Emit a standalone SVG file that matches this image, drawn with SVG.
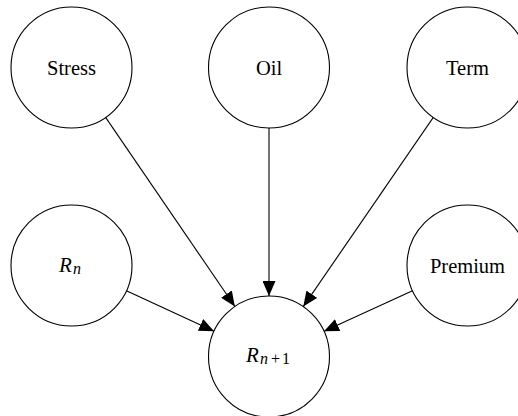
<svg xmlns="http://www.w3.org/2000/svg" width="518" height="416" viewBox="0 0 518 416">
  <style>
    .node circle { fill: #fff; stroke: #000; stroke-width: 1.1; }
    .label { font-family: 'Liberation Serif', 'Times New Roman', Times, serif; font-size: 20.5px; fill: #000; text-anchor: middle; }
    .math { font-style: italic; font-size: 21px; }
    .sub { font-size: 16px; }
    .edges line { stroke: #000; stroke-width: 1.1; fill: none; marker-end: url(#arrow); }
  </style>
  <defs>
    <marker id="arrow" markerUnits="userSpaceOnUse" markerWidth="15" markerHeight="13" refX="15" refY="6.5" orient="auto">
      <path d="M0,0 L15,6.5 L0,13 z" fill="#000"/>
    </marker>
  </defs>

  <!-- connectors: every factor points into the next value -->
  <g id="edges" class="edges">
    <line x1="105.6" y1="117.4" x2="234.9" y2="306.5"/>
    <line x1="269" y1="128" x2="269" y2="296"/>
    <line x1="433.3" y1="117.4" x2="303.3" y2="306.6"/>
    <line x1="126.4" y1="290.8" x2="214.1" y2="331.2"/>
    <line x1="412.5" y1="290.7" x2="324" y2="331.3"/>
  </g>

  <g id="stress" class="node">
    <circle cx="71.5" cy="67.5" r="60.5"/>
    <text class="label" x="71.5" y="74.5">Stress</text>
  </g>
  <g id="oil" class="node">
    <circle cx="269" cy="67.5" r="60.5"/>
    <text class="label" x="269" y="74.5">Oil</text>
  </g>
  <g id="term" class="node">
    <circle cx="467.5" cy="67.5" r="60.5"/>
    <text class="label" x="467.5" y="74.5">Term</text>
  </g>
  <g id="r-n" class="node">
    <circle cx="71.5" cy="265.5" r="60.5"/>
    <text class="label" x="70" y="271.7"><tspan class="math">R</tspan><tspan class="math sub" dx="1" dy="2">n</tspan></text>
  </g>
  <g id="premium" class="node">
    <circle cx="467.5" cy="265.5" r="60.5"/>
    <text class="label" x="467.5" y="272.5">Premium</text>
  </g>
  <g id="r-next" class="node">
    <circle cx="269" cy="356.5" r="60.5"/>
    <text class="label" x="268" y="361.7"><tspan class="math">R</tspan><tspan class="math sub" dx="1" dy="2">n</tspan><tspan class="sub" dx="3">+</tspan><tspan class="sub" dx="2">1</tspan></text>
  </g>
</svg>
